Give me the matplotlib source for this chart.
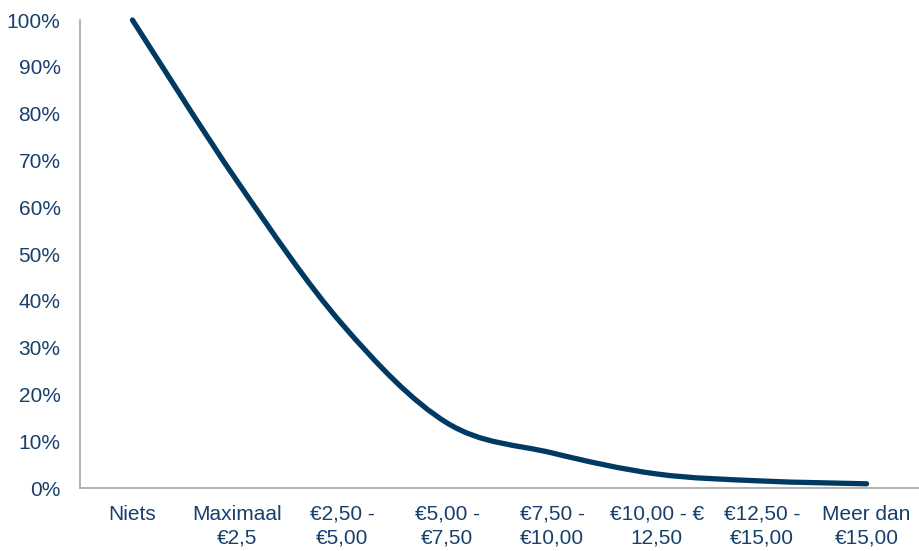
import numpy as np
import matplotlib.pyplot as plt
from matplotlib.path import Path
from matplotlib.patches import PathPatch
from matplotlib.ticker import PercentFormatter

plt.rcParams['font.family'] = ['Liberation Sans', 'DejaVu Sans']

# data
categories = ['Niets', 'Maximaal\n€2,5', '€2,50 -\n€5,00', '€5,00 -\n€7,50',
              '€7,50 -\n€10,00', '€10,00 - €\n12,50', '€12,50 -\n€15,00', 'Meer dan\n€15,00']
share = [1.00, 0.655, 0.35, 0.139, 0.075, 0.03, 0.015, 0.009]

line_color = '#003a63'
text_color = '#17406d'
axis_color = '#a6a6a6'

fig = plt.figure(figsize=(9.19, 5.51), dpi=100)
ax = fig.add_axes([80 / 919, 1 - 488 / 551, 1 - 80 / 919, (488 - 20) / 551])

# smoothed line (Bezier through the points, like a spreadsheet "smoothed line")
x = np.arange(len(share), dtype=float)
y = np.array(share)
pts = np.column_stack([x, y])
verts = [pts[0]]
codes = [Path.MOVETO]
for i in range(len(pts) - 1):
    p0 = pts[i - 1] if i > 0 else pts[i]
    p1 = pts[i]
    p2 = pts[i + 1]
    p3 = pts[i + 2] if i + 2 < len(pts) else pts[i + 1]
    c1 = p1 + (p2 - p0) / 6
    c2 = p2 - (p3 - p1) / 6
    verts += [c1, c2, p2]
    codes += [Path.CURVE4] * 3
patch = PathPatch(Path(verts, codes), facecolor='none', edgecolor=line_color,
                  lw=3.8, capstyle='round', joinstyle='round', clip_on=False)
ax.add_patch(patch)

ax.set_xlim(-0.5, len(categories) - 0.5)
ax.set_ylim(0, 1)
ax.set_yticks(np.arange(0, 1.01, 0.1))
ax.yaxis.set_major_formatter(PercentFormatter(1.0, decimals=0))
ax.set_xticks(x)
ax.set_xticklabels(categories, linespacing=1.3)

ax.tick_params(axis='both', length=0, labelsize=15, colors=text_color)
ax.tick_params(axis='x', pad=12)
ax.tick_params(axis='y', pad=14)
for s in ['top', 'right']:
    ax.spines[s].set_visible(False)
for s in ['left', 'bottom']:
    ax.spines[s].set_color(axis_color)
    ax.spines[s].set_linewidth(1.2)

fig.savefig('out.png', dpi=100)
